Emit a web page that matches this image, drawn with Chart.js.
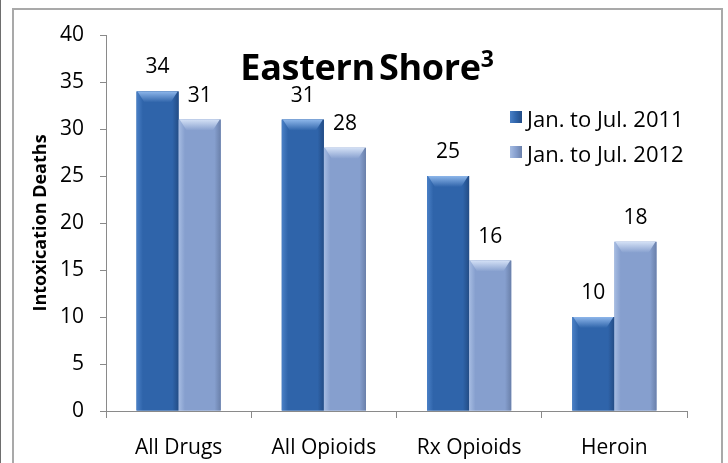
<!DOCTYPE html>
<html>
<head>
<meta charset="utf-8">
<script src="https://cdn.jsdelivr.net/npm/chart.js@4.4.1/dist/chart.umd.min.js"></script>
<style>
  body { margin: 0; background: #fff; font-family: "Open Sans", sans-serif; }
  #marco { position: absolute; left: 0; top: 0; width: 728px; height: 463px; overflow: hidden; }
  #linea { position: absolute; left: 0; top: 0; width: 1px; height: 463px; background: #6e6e6e; }
  #borde { position: absolute; left: 12px; top: 8px; width: 707px; height: 480px; border: 2px solid #a9a9a9; }
  #grafico { position: absolute; left: 0; top: 0; }
  #titulo { position: absolute; left: 0; width: 734px; top: 40px; text-align: center; font-weight: bold; font-size: 36px; line-height: 36px; color: #000; word-spacing: -5px; letter-spacing: -0.3px; }
  #titulo span { font-size: 23px; vertical-align: 13px; }
  .item { position: absolute; left: 510px; height: 22px; font-size: 22px; line-height: 22px; color: #000; white-space: nowrap; }
  .item i { position: absolute; left: 0; top: 4px; width: 12px; height: 12px; }
  .item b { position: absolute; left: 17px; top: 0; font-weight: normal; }
</style>
</head>
<body>
<div id="marco">
  <div id="linea"></div>
  <div id="borde"></div>
  <canvas id="grafico" width="728" height="463"></canvas>
  <div id="titulo">Eastern Shore<span>3</span></div>
  <div id="leyenda"></div>
</div>
<script>
let categorias = ["All Drugs", "All Opioids", "Rx Opioids", "Heroin"];
let series = ["Jan. to Jul. 2011", "Jan. to Jul. 2012"];
let datos2011 = [34, 31, 25, 10];
let datos2012 = [31, 28, 16, 18];
let ticksY = [0, 5, 10, 15, 20, 25, 30, 35, 40];

// tonos de cada serie: borde izq, centro, borde der, bisel
const tonos = [
    ["#4a80c6", "#2f64aa", "#234c85", "#8db6ea"],
    ["#a6bce2", "#869fce", "#6a80aa", "#d3e0f5"]
];

/*******************************************************************************/
// Leyenda

let leyenda = document.getElementById("leyenda");
series.forEach((nombre, i) => {
    let item = document.createElement("div");
    item.className = "item";
    item.style.top = (107 + i * 35) + "px";
    let cuadro = document.createElement("i");
    cuadro.style.background = "linear-gradient(to right, " + tonos[i][0] + ", " + tonos[i][1] + ", " + tonos[i][2] + ")";
    let texto = document.createElement("b");
    texto.textContent = nombre;
    item.appendChild(cuadro);
    item.appendChild(texto);
    leyenda.appendChild(item);
});

/*******************************************************************************/
// Plugins

const relieve = {
    id: "relieve",
    afterDatasetsDraw(chart) {
        const ctx = chart.ctx;
        ctx.save();
        chart.data.datasets.forEach((ds, i) => {
            const t = tonos[i];
            chart.getDatasetMeta(i).data.forEach((bar) => {
                const x0 = bar.x - bar.width / 2;
                const x1 = bar.x + bar.width / 2;
                const y0 = bar.y;
                const y1 = bar.base;
                let g = ctx.createLinearGradient(x0, 0, x1, 0);
                g.addColorStop(0, t[0]);
                g.addColorStop(0.15, t[1]);
                g.addColorStop(0.85, t[1]);
                g.addColorStop(1, t[2]);
                ctx.fillStyle = g;
                ctx.fillRect(x0, y0, x1 - x0, y1 - y0);
                // bisel superior
                let gb = ctx.createLinearGradient(0, y0, 0, y0 + 11);
                gb.addColorStop(0, t[3]);
                gb.addColorStop(1, t[1]);
                ctx.fillStyle = gb;
                ctx.beginPath();
                ctx.moveTo(x0 + 1, y0);
                ctx.lineTo(x1 - 1, y0);
                ctx.lineTo(x1 - 8, y0 + 11);
                ctx.lineTo(x0 + 8, y0 + 11);
                ctx.closePath();
                ctx.fill();
            });
        });
        ctx.restore();
    }
};

const etiquetas = {
    id: "etiquetas",
    afterDatasetsDraw(chart) {
        const ctx = chart.ctx;
        ctx.save();
        ctx.font = '21px "Open Sans"';
        ctx.fillStyle = "#000";
        ctx.textAlign = "center";
        ctx.textBaseline = "middle";
        chart.data.datasets.forEach((ds, i) => {
            chart.getDatasetMeta(i).data.forEach((bar, j) => {
                ctx.fillText(ds.data[j], bar.x, bar.y - 24);
            });
        });
        ctx.restore();
    }
};

/*******************************************************************************/
// Grafico

const ctx = document.getElementById("grafico").getContext("2d");
new Chart(ctx, {
    type: "bar",
    data: {
        labels: categorias,
        datasets: [
            { label: series[0], data: datos2011, backgroundColor: tonos[0][1] },
            { label: series[1], data: datos2012, backgroundColor: tonos[1][1] }
        ]
    },
    options: {
        responsive: false,
        animation: false,
        categoryPercentage: 0.58,
        barPercentage: 1,
        layout: { padding: { top: 35, right: 41, left: 0, bottom: 0 } },
        plugins: {
            legend: { display: false },
            tooltip: { enabled: false }
        },
        scales: {
            x: {
                afterFit: (scale) => { scale.height = 52; },
                border: { color: "#8a8a8a" },
                grid: { drawOnChartArea: false, tickLength: 7, color: "#8a8a8a", offset: true },
                ticks: { font: { family: "Open Sans", size: 21 }, color: "#000", padding: 17 }
            },
            y: {
                min: 0,
                max: 40,
                afterFit: (scale) => { scale.width = 106; },
                afterBuildTicks: (scale) => { scale.ticks = ticksY.map((v) => ({ value: v })); },
                border: { color: "#8a8a8a" },
                grid: { drawOnChartArea: false, tickLength: 6, color: "#8a8a8a" },
                ticks: { font: { family: "Open Sans", size: 21 }, color: "#000", padding: 16 },
                title: {
                    display: true,
                    text: "Intoxication Deaths",
                    font: { family: "Open Sans", size: 18, weight: "bold" },
                    color: "#000",
                    padding: { top: 30, bottom: 0 }
                }
            }
        }
    },
    plugins: [relieve, etiquetas]
});
</script>
</body>
</html>
